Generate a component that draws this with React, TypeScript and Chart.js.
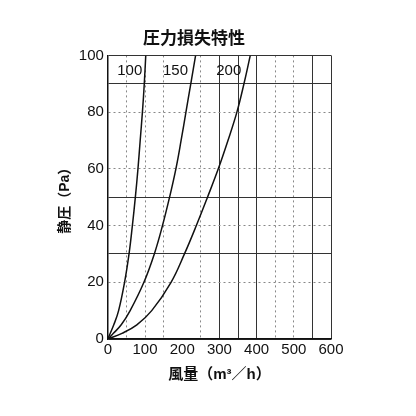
import { useEffect, useRef } from "react"
import { Chart, registerables } from "chart.js"

Chart.register(...registerables)

// curve names (printed inside the plot)
const curveNames = ["100", "150", "200"]

// flow (m³/h) and static pressure (Pa)
const flow100 = [0, 16, 29, 45, 57, 66, 74, 81, 87, 93, 98, 102]
const pressure100 = [0, 5, 10, 20, 30, 40, 50, 60, 70, 80, 90, 100]
const flow150 = [0, 15, 36, 60, 97, 125, 147, 166, 183, 197, 210, 223, 236]
const pressure150 = [0, 2, 5, 10, 20, 30, 40, 50, 60, 70, 80, 90, 100]
const flow200 = [0, 38, 78, 118, 170, 206, 238, 268, 297, 323, 347, 366, 383]
const pressure200 = [0, 2, 5, 10, 20, 30, 40, 50, 60, 70, 80, 90, 100]

// where the curve names sit, in data units
const nameFlow = [59, 182, 325]
const namePressure = [94.7, 94.7, 94.7]

// grid lines in the scanned original: some solid, some dashed, some missing
const xSolid = [0, 300, 350, 400, 550, 600]
const xDashed = [50, 100, 150, 250, 450, 500]
const ySolid = [0, 30, 50, 90, 100]
const yDashed = [20, 40, 60, 80]

const font = "'Liberation Sans', 'Noto Sans CJK JP', sans-serif"

const toPoints = (xs: number[], ys: number[]) => xs.map((x, i) => ({ x, y: ys[i] }))

const curveLabels = {
  id: "curveLabels",
  afterDatasetsDraw(chart: Chart) {
    const { ctx, scales } = chart
    ctx.save()
    ctx.font = `15px ${font}`
    ctx.fillStyle = "#111"
    ctx.textAlign = "center"
    ctx.textBaseline = "middle"
    curveNames.forEach((name, i) => {
      ctx.fillText(name, scales.x.getPixelForValue(nameFlow[i]), scales.y.getPixelForValue(namePressure[i]))
    })
    ctx.restore()
  },
}

function gridColor(solid: number[], dashed: number[]) {
  return (c: any) => {
    const v = c.tick?.value
    if (solid.includes(v)) return "#333"
    if (dashed.includes(v)) return "#888"
    return "rgba(0,0,0,0)"
  }
}

function gridDash(dashed: number[]) {
  return (c: any) => (dashed.includes(c.tick?.value) ? [2, 3] : [])
}

export default function App() {
  const canvasRef = useRef<HTMLCanvasElement>(null)
  const chartRef = useRef<Chart | null>(null)

  useEffect(() => {
    if (!canvasRef.current) return
    if (chartRef.current) chartRef.current.destroy()

    const line = { borderColor: "#111", borderWidth: 1.5, pointRadius: 0, showLine: true, tension: 0.4 }

    chartRef.current = new Chart(canvasRef.current, {
      type: "scatter",
      data: {
        datasets: [
          { label: curveNames[0], data: toPoints(flow100, pressure100), ...line },
          { label: curveNames[1], data: toPoints(flow150, pressure150), ...line },
          { label: curveNames[2], data: toPoints(flow200, pressure200), ...line },
        ],
      },
      options: {
        animation: false,
        responsive: false,
        layout: { padding: { left: 57, right: 85, top: 29, bottom: 32 } },
        plugins: {
          legend: { display: false },
          tooltip: { enabled: false },
          title: {
            display: true,
            text: "圧力損失特性",
            color: "#111",
            font: { family: font, size: 17, weight: "bold" },
            padding: { top: 0, bottom: 6 },
          },
        },
        scales: {
          x: {
            type: "linear",
            min: 0,
            max: 600,
            ticks: {
              stepSize: 50,
              color: "#111",
              font: { family: font, size: 15 },
              padding: 2,
              maxRotation: 0,
              autoSkip: false,
              callback: (v: any) => (v % 100 === 0 ? String(v) : ""),
            },
            grid: { color: gridColor(xSolid, xDashed), lineWidth: 1, drawTicks: false },
            border: { color: "#111", width: 1.5, dash: gridDash(xDashed) as any },
            title: {
              display: true,
              text: "風量（m³／h）",
              color: "#111",
              font: { family: font, size: 15, weight: "bold" },
              padding: { top: 5, bottom: 0 },
            },
          },
          y: {
            min: 0,
            max: 100,
            ticks: {
              stepSize: 10,
              color: "#111",
              font: { family: font, size: 15 },
              padding: 4,
              autoSkip: false,
              callback: (v: any) => (v % 20 === 0 ? String(v) : ""),
            },
            grid: { color: gridColor(ySolid, yDashed), lineWidth: 1, drawTicks: false },
            border: { color: "#111", width: 1.5, dash: gridDash(yDashed) as any },
            title: {
              display: true,
              text: "静圧（Pa）",
              color: "#111",
              font: { family: font, size: 14, weight: "bold" },
              padding: { top: 0, bottom: 1 },
            },
          },
        },
      },
      plugins: [curveLabels],
    })

    return () => {
      chartRef.current?.destroy()
      chartRef.current = null
    }
  }, [])

  return (
    <div style={{ position: "absolute", left: 0, top: 0, width: 416, height: 416, background: "#fff" }}>
      <canvas ref={canvasRef} width={416} height={416} style={{ width: 416, height: 416 }} />
    </div>
  )
}
